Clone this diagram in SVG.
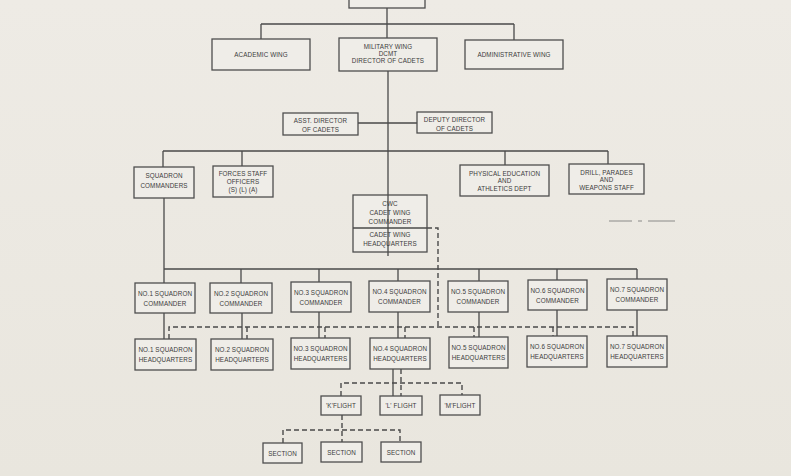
<svg xmlns="http://www.w3.org/2000/svg" width="791" height="476" viewBox="0 0 791 476">
<defs>
<style>
.bg{fill:#ebe8e1}
.box{fill:#efede8;stroke:#4e4e4e;stroke-width:1.3}
.ln{fill:none;stroke:#4a4a4a;stroke-width:1.3}
.dash{fill:none;stroke:#4a4a4a;stroke-width:1.4;stroke-dasharray:5 3}
.legend{fill:none;stroke:#8a8a88;stroke-width:1}
text{font-family:"Liberation Sans",Arial,sans-serif;font-size:6.3px;fill:#3c3c3c;text-anchor:middle;letter-spacing:0.1px}
.t7{font-size:7px}
</style>
<linearGradient id="paper" x1="0" y1="0" x2="0" y2="1">
<stop offset="0" stop-color="#eeebe5"/>
<stop offset="1" stop-color="#e9e6de"/>
</linearGradient>
</defs>
<rect x="0" y="0" width="791" height="476" fill="url(#paper)"/>

<g id="connectors">
<!-- top -->
<path class="ln" d="M387 8 V38 M261 24 H514 M261 24 V39 M514 24 V40"/>
<!-- military down -->
<path class="ln" d="M388 71 V256 M358 123 H417 M163 151 H608 M163 151 V167 M242 151 V166 M505 151 V165 M608 151 V164"/>
<!-- squadron commanders -->
<path class="ln" d="M164 198 V339 M164 269 H637 M241 269 V283 M319 269 V282 M398 269 V281 M479 269 V281 M557 269 V280 M637 269 V279"/>
<path class="ln" d="M242 313 V339 M319 312 V338 M398 312 V338 M479 312 V337 M557 310 V336 M637 310 V336"/>
<!-- dashed HQ -->
<path class="dash" d="M427 228 H438 V327"/>
<path class="dash" d="M169 339 V327 H633 V336"/>
<path class="dash" d="M247 327 V339 M325 327 V338 M405 327 V338 M474 327 V337 M553 327 V336"/>
<!-- flights -->
<path class="ln" d="M393 369 V396"/>
<path class="dash" d="M401 369 V396 M341 396 V383 H462 V395"/>
<path class="dash" d="M342 415 V442 M283 443 V430 H400 V442"/>
<!-- faint legend line -->
<path class="legend" d="M609 221 H632 M638 221 H642 M648 221 H675"/>
</g>

<g id="top"><rect class="box" x="349" y="-2" width="76" height="10"/></g>
<g id="academic"><rect class="box" x="212" y="39" width="98" height="31"/><text x="261" y="57">ACADEMIC WING</text></g>
<g id="military"><rect class="box" x="339" y="38" width="98" height="33"/><text x="388" y="49">MILITARY WING</text><text x="388" y="56">DCMT</text><text x="388" y="63">DIRECTOR OF CADETS</text></g>
<g id="administrative"><rect class="box" x="465" y="40" width="98" height="29"/><text x="514" y="57">ADMINISTRATIVE WING</text></g>

<g id="asst"><rect class="box" x="283" y="113" width="75" height="22"/><text x="320.5" y="123">ASST. DIRECTOR</text><text x="320.5" y="131.5">OF CADETS</text></g>
<g id="deputy"><rect class="box" x="417" y="112" width="75" height="21"/><text x="454.5" y="122">DEPUTY DIRECTOR</text><text x="454.5" y="130.5">OF CADETS</text></g>

<g id="sqncdrs"><rect class="box" x="134" y="167" width="60" height="31"/><text x="164" y="177.5">SQUADRON</text><text x="164" y="187.5">COMMANDERS</text></g>
<g id="forces"><rect class="box" x="213" y="166" width="60" height="31"/><text x="243" y="175.5">FORCES STAFF</text><text x="243" y="184">OFFICERS</text><text x="243" y="192">(S) (L) (A)</text></g>
<g id="phys"><rect class="box" x="460" y="165" width="89" height="31"/><text x="504.5" y="175.5">PHYSICAL EDUCATION</text><text x="504.5" y="182.5">AND</text><text x="504.5" y="190.5">ATHLETICS DEPT</text></g>
<g id="drill"><rect class="box" x="569" y="164" width="75" height="30"/><text x="606.5" y="174.5">DRILL, PARADES</text><text x="606.5" y="181.5">AND</text><text x="606.5" y="189.5">WEAPONS STAFF</text></g>

<g id="cwc">
<rect x="353" y="195" width="74" height="57" fill="#efede8"/>
<path class="ln" d="M388 195 V252"/>
<rect x="353" y="195" width="74" height="57" fill="none" stroke="#4e4e4e" stroke-width="1.3"/>
<path class="ln" d="M353 228 H427"/>
<text x="390" y="205.5">CWC</text><text x="390" y="214.5">CADET WING</text><text x="390" y="223.5">COMMANDER</text>
<text x="390" y="237">CADET WING</text><text x="390" y="246">HEADQUARTERS</text>
</g>

<g id="cdr1"><rect class="box" x="135" y="283" width="60" height="30"/><text x="165" y="295.5">NO.1 SQUADRON</text><text x="165" y="305.5">COMMANDER</text></g>
<g id="cdr2"><rect class="box" x="210" y="283" width="62" height="30"/><text x="241" y="295.5">NO.2 SQUADRON</text><text x="241" y="305.5">COMMANDER</text></g>
<g id="cdr3"><rect class="box" x="291" y="282" width="60" height="30"/><text x="321" y="294.5">NO.3 SQUADRON</text><text x="321" y="304.5">COMMANDER</text></g>
<g id="cdr4"><rect class="box" x="369" y="281" width="61" height="31"/><text x="399.5" y="294">NO.4 SQUADRON</text><text x="399.5" y="304">COMMANDER</text></g>
<g id="cdr5"><rect class="box" x="448" y="281" width="60" height="31"/><text x="478" y="294">NO.5 SQUADRON</text><text x="478" y="304">COMMANDER</text></g>
<g id="cdr6"><rect class="box" x="528" y="280" width="59" height="30"/><text x="557.5" y="292.5">NO.6 SQUADRON</text><text x="557.5" y="302.5">COMMANDER</text></g>
<g id="cdr7"><rect class="box" x="607" y="279" width="60" height="31"/><text x="637" y="292">NO.7 SQUADRON</text><text x="637" y="302">COMMANDER</text></g>

<g id="hq1"><rect class="box" x="135" y="339" width="61" height="31"/><text x="165.5" y="351.5">NO.1 SQUADRON</text><text x="165.5" y="361.5">HEADQUARTERS</text></g>
<g id="hq2"><rect class="box" x="211" y="339" width="62" height="31"/><text x="242" y="351.5">NO.2 SQUADRON</text><text x="242" y="361.5">HEADQUARTERS</text></g>
<g id="hq3"><rect class="box" x="291" y="338" width="59" height="31"/><text x="320.5" y="350.5">NO.3 SQUADRON</text><text x="320.5" y="360.5">HEADQUARTERS</text></g>
<g id="hq4"><rect class="box" x="370" y="338" width="60" height="31"/><text x="400" y="350.5">NO.4 SQUADRON</text><text x="400" y="360.5">HEADQUARTERS</text></g>
<g id="hq5"><rect class="box" x="449" y="337" width="59" height="31"/><text x="478.5" y="349.5">NO.5 SQUADRON</text><text x="478.5" y="359.5">HEADQUARTERS</text></g>
<g id="hq6"><rect class="box" x="527" y="336" width="60" height="31"/><text x="557" y="348.5">NO.6 SQUADRON</text><text x="557" y="358.5">HEADQUARTERS</text></g>
<g id="hq7"><rect class="box" x="607" y="336" width="60" height="31"/><text x="637" y="348.5">NO.7 SQUADRON</text><text x="637" y="358.5">HEADQUARTERS</text></g>

<g id="kflight"><rect class="box" x="321" y="396" width="40" height="19"/><text x="341" y="408">'K'FLIGHT</text></g>
<g id="lflight"><rect class="box" x="380" y="396" width="42" height="19"/><text x="401" y="408">'L' FLIGHT</text></g>
<g id="mflight"><rect class="box" x="440" y="395" width="40" height="20"/><text x="460" y="407.5">'M'FLIGHT</text></g>

<g id="section1"><rect class="box" x="263" y="443" width="39" height="20"/><text x="282.5" y="455.5">SECTION</text></g>
<g id="section2"><rect class="box" x="321" y="442" width="41" height="20"/><text x="341.5" y="454.5">SECTION</text></g>
<g id="section3"><rect class="box" x="381" y="442" width="40" height="20"/><text x="401" y="454.5">SECTION</text></g>
</svg>
